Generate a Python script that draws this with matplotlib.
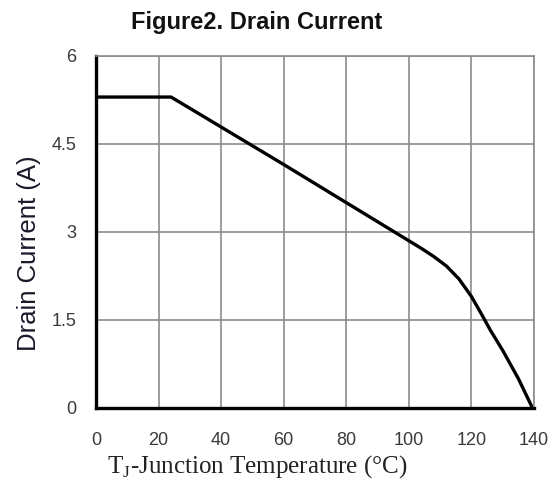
import matplotlib.pyplot as plt

plt.rcParams["mathtext.fontset"] = "custom"
plt.rcParams["mathtext.rm"] = "Liberation Serif"

# Tj (degC) vs drain current (A)
temps = [0, 24, 60, 100, 104, 108, 112, 116, 120, 123, 126, 130, 135, 139.5]
current = [5.3, 5.3, 4.15, 2.85, 2.72, 2.58, 2.42, 2.2, 1.9, 1.62, 1.33, 0.98, 0.5, 0.0]

xticks = [0, 20, 40, 60, 80, 100, 120, 140]
yticks = [0, 1.5, 3, 4.5, 6]
ytick_labels = ["0", "1.5", "3", "4.5", "6"]

fig = plt.figure(figsize=(5.51, 4.95), dpi=100)
ax = fig.add_axes([0.1742, 0.1758, 0.7950, 0.7111])

ax.plot(temps, current, color="black", lw=2.4, solid_capstyle="butt")

ax.set_xlim(0, 140)
ax.set_ylim(0, 6)
ax.set_xticks(xticks)
ax.set_yticks(yticks)
ax.set_yticklabels(ytick_labels)
ax.grid(True, color="#8c8c8c", lw=1.2)
ax.set_axisbelow(True)

for side in ["top", "right"]:
    ax.spines[side].set_color("#8c8c8c")
    ax.spines[side].set_linewidth(1.2)
for side in ["left", "bottom"]:
    ax.spines[side].set_color("black")
    ax.spines[side].set_linewidth(2.4)

ax.tick_params(length=0, labelsize=13, labelcolor="#3a3a3a")
ax.tick_params(axis="x", pad=17)
ax.tick_params(axis="y", pad=14)
for lab in ax.get_xticklabels() + ax.get_yticklabels():
    lab.set_family("Liberation Sans")

fig.text(0.465, 0.954, "Figure2. Drain Current", ha="center", va="center",
         fontsize=17, fontweight="bold", family="Liberation Sans", color="#111111")
fig.text(0.052, 0.488, "Drain Current (A)", rotation=90, ha="center", va="center",
         fontsize=18.5, family="Liberation Sans", color="#1a1a2a")
fig.text(0.466, 0.057, "T$_{\\rm J}$-Junction Temperature (\u00b0C)", ha="center",
         va="center", fontsize=18, family="Liberation Serif", color="#222222")

fig.savefig("out.png", dpi=100)
